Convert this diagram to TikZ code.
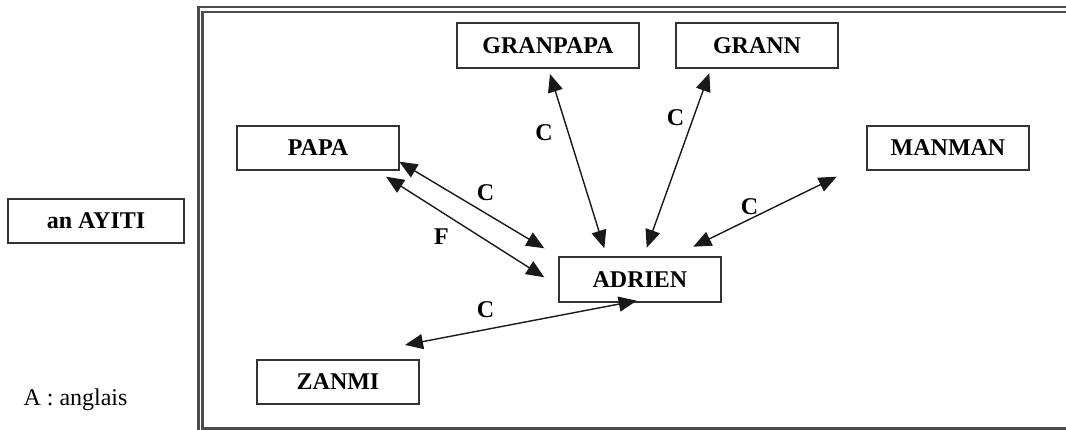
\documentclass[tikz,border=0pt]{standalone}
\usepackage{fontspec}
\setmainfont{Liberation Serif}
\usetikzlibrary{arrows.meta}
\begin{document}
\begin{tikzpicture}[x=1pt,y=-1pt,
  box/.style={draw=black!80,line width=1.8pt,minimum height=44pt,inner sep=0pt,font=\fontsize{24}{28}\selectfont\bfseries},
  lbl/.style={inner sep=0pt,font=\fontsize{24}{28}\selectfont\bfseries},
  frameline/.style={draw=black!70,line width=2.2pt},
  link/.style={draw=black!90,line width=1.4pt,{Triangle[length=18pt,width=15pt]}-{Triangle[length=18pt,width=15pt]}}]
\useasboundingbox (0,0) rectangle (1066,430);
% frame
\draw[frameline] (1075,7) -- (198.5,7) -- (198.5,440);
\draw[frameline] (1075,11.8) -- (202.5,11.8) -- (202.5,428.5) -- (1075,428.5);
% nodes
\node[box,minimum width=176pt] (ayiti) at (96,221) {an AYITI};
\node[inner sep=0pt,anchor=base,font=\fontsize{24}{28}\selectfont] (legend) at (75.5,405) {A : anglais};
\node[box,minimum width=162pt] (zanmi) at (338,382) {ZANMI};
\node[box,minimum width=162pt] (papa) at (318,148) {PAPA};
\node[box,minimum width=182pt,minimum height=45pt] (granpapa) at (548,45.5) {GRANPAPA};
\node[box,minimum width=162pt,minimum height=45pt] (grann) at (757,45.5) {GRANN};
\node[box,minimum width=162pt] (manman) at (948,148) {MANMAN};
\node[box,minimum width=162pt,minimum height=45pt] (adrien) at (640,279.5) {ADRIEN};
% arrow end points
\coordinate (pC1) at (399.3,161.7);
\coordinate (aC1) at (544.3,248.3);
\coordinate (pF1) at (386,176.7);
\coordinate (aF1) at (544.3,277.3);
\coordinate (gp1) at (550,74);
\coordinate (aGP) at (604.3,248.3);
\coordinate (gr1) at (709.3,73.3);
\coordinate (aGR) at (646.7,247.7);
\coordinate (mm1) at (836.7,176.7);
\coordinate (aMM) at (693.3,246.7);
\coordinate (zn1) at (405,345);
\coordinate (aZN) at (636.7,300.7);
% connectors
\draw[link] (pC1) -- (aC1);
\draw[link] (pF1) -- (aF1);
\draw[link] (gp1) -- (aGP);
\draw[link] (gr1) -- (aGR);
\draw[link] (mm1) -- (aMM);
\draw[link] (zn1) -- (aZN);
% labels
\node[lbl] (lC1) at (485.5,192.5) {C};
\node[lbl] (lF) at (441.5,236.5) {F};
\node[lbl] (lC2) at (544,132.5) {C};
\node[lbl] (lC3) at (675.5,118) {C};
\node[lbl] (lC4) at (749.5,207) {C};
\node[lbl] (lC5) at (485.5,309.5) {C};
\end{tikzpicture}
\end{document}
